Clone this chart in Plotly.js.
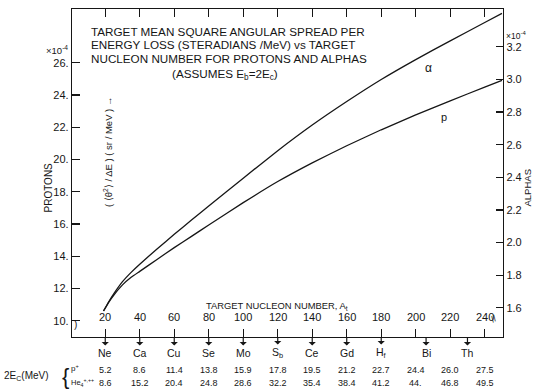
<!DOCTYPE html>
<html><head><meta charset="utf-8">
<script src="https://cdn.plot.ly/plotly-3.0.1.min.js"></script>
<style>html,body{margin:0;padding:0;background:#fff}#chart{width:541px;height:391px}</style>
</head><body><div id="chart"></div>
<script>
// ---- data ----
const curveA = [19, 22, 25, 30, 35, 40, 50, 60, 70, 80, 100, 120, 140, 160, 180, 200, 220, 240, 250];
const protonValues = [10.60, 11.14, 11.59, 12.22, 12.69, 13.06, 13.80, 14.53, 15.23, 15.94, 17.32, 18.63, 19.79, 20.85, 21.84, 22.76, 23.63, 24.49, 24.91];
const alphaValues = [1.581, 1.638, 1.688, 1.761, 1.818, 1.868, 1.961, 2.051, 2.138, 2.224, 2.395, 2.563, 2.720, 2.864, 2.999, 3.121, 3.236, 3.348, 3.404];

const massTicks = [20, 40, 60, 80, 100, 120, 140, 160, 180, 200, 220, 240];
const massTickText = ['20', '40', '60', '80', '100', '120', '140', '160', '180', '200', '220', '240'];
const protonTicks = [10, 12, 14, 16, 18, 20, 22, 24, 26];
const protonTickText = ['10.', '12.', '14.', '16.', '18.', '20.', '22.', '24.', '26.'];
const alphaTicks = [1.6, 1.8, 2.0, 2.2, 2.4, 2.6, 2.8, 3.0, 3.2];
const alphaTickText = ['1.6', '1.8', '2.0', '2.2', '2.4', '2.6', '2.8', '3.0', '3.2'];

const elementNames = ['Ne', 'Ca', 'Cu', 'Se', 'Mo', 'S<sub>b</sub>', 'Ce', 'Gd', 'H<sub>f</sub>', 'Bi', 'Th'];
const elementA = [20, 40, 60, 80, 100, 120, 140, 160, 180, 206, 230];
const protonEcText = ['5.2', '8.6', '11.4', '13.8', '15.9', '17.8', '19.5', '21.2', '22.7', '24.4', '26.0', '27.5'];
const alphaEcText = ['8.6', '15.2', '20.4', '24.8', '28.6', '32.2', '35.4', '38.4', '41.2', '44.', '46.8', '49.5'];

const titleLines = [
  'TARGET MEAN SQUARE ANGULAR SPREAD PER',
  'ENERGY LOSS (STERADIANS /MeV) vs TARGET',
  'NUCLEON NUMBER FOR PROTONS AND ALPHAS'
];

// ---- layout helpers ----
const W = 541, H = 391, L = 72, R = 38, T = 9, B = 54;
const PW = W - L - R, PH = H - T - B;
const px = x => (x - L) / PW;
const py = y => (H - B - y) / PH;
const FONT = 'Liberation Sans, Arial, sans-serif';
const ink = '#161616';

const traces = [
  {x: curveA, y: protonValues, mode: 'lines', name: 'p',
   line: {color: ink, width: 1.3, shape: 'spline', smoothing: 0.4},
   xaxis: 'x', yaxis: 'y', hoverinfo: 'skip'},
  {x: curveA, y: alphaValues, mode: 'lines', name: 'alpha',
   line: {color: ink, width: 1.3, shape: 'spline', smoothing: 0.4},
   xaxis: 'x', yaxis: 'y2', hoverinfo: 'skip'}
];

const ann = [];
const txt = (text, x, y, opts) => Object.assign({text, x: px(x), y: py(y), xref: 'paper', yref: 'paper',
  showarrow: false, borderpad: 0, font: {family: FONT, size: 11, color: ink}}, opts || {});

// title lines
titleLines.forEach((t, i) => ann.push(txt(t, 90, [32, 45, 58][i], {xanchor: 'left', yanchor: 'middle', font: {family: FONT, size: 11.7, color: ink}})));
ann.push(txt('(ASSUMES E<sub>b</sub>=2E<sub>c</sub>)', 171, 75, {xanchor: 'left', yanchor: 'middle', font: {family: FONT, size: 11.7, color: ink}}));

// x axis title & tick labels (drawn above the axis line)
ann.push(txt('TARGET NUCLEON NUMBER, A<sub>t</sub>', 205, 306, {xanchor: 'left', yanchor: 'middle', font: {family: FONT, size: 9.4, color: ink}}));
massTicks.forEach((a, i) => ann.push({text: massTickText[i], x: a, xref: 'x', y: 0, yref: 'paper', yshift: 20,
  showarrow: false, yanchor: 'middle', font: {family: FONT, size: 11, color: ink}}));

// element arrows
elementA.forEach((a, i) => ann.push({text: elementNames[i], x: a, xref: 'x', y: 0, yref: 'paper',
  showarrow: true, arrowside: 'start', arrowhead: 2, arrowsize: 0.7, arrowwidth: 1.2, arrowcolor: ink,
  ax: 0, ay: 16, font: {family: FONT, size: 10.5, color: ink}}));

// 2Ec rows
massTicks.forEach((a, i) => {
  ann.push({text: protonEcText[i], x: a, xref: 'x', y: 0, yref: 'paper', yshift: -32.5, showarrow: false,
    yanchor: 'middle', font: {family: FONT, size: 9, color: ink}});
  ann.push({text: alphaEcText[i], x: a, xref: 'x', y: 0, yref: 'paper', yshift: -45.5, showarrow: false,
    yanchor: 'middle', font: {family: FONT, size: 9, color: ink}});
});
ann.push(txt('2E<sub>C</sub>(MeV)', 3, 376, {xanchor: 'left', yanchor: 'middle', font: {family: FONT, size: 10, color: ink}}));
ann.push(txt('{', 61, 376, {xanchor: 'left', yanchor: 'middle', font: {family: FONT, size: 22, color: ink}}));
ann.push(txt('p<sup>+</sup>', 70, 368, {xanchor: 'left', yanchor: 'middle', font: {family: FONT, size: 8, color: ink}}));
ann.push(txt('He<sub>4</sub><sup>+,++</sup>', 70, 383, {xanchor: 'left', yanchor: 'middle', font: {family: FONT, size: 7.5, color: ink}}));

// axis side labels and exponents
ann.push(txt('PROTONS', 42, 188, {textangle: -90, font: {family: FONT, size: 10, color: ink}}));
ann.push(txt('ALPHAS', 534, 188, {textangle: -90, font: {family: FONT, size: 9.5, color: ink}}));
ann.push(txt('×10<sup>-4</sup>', 69, 43, {xanchor: 'right', font: {family: FONT, size: 9.5, color: ink}}));
ann.push(txt('×10<sup>-4</sup>', 505, 29, {xanchor: 'left', font: {family: FONT, size: 8.5, color: ink}}));
ann.push(txt('( ⟨θ<sup>2</sup>⟩ / ΔE ) ( sr / MeV ) →', 101, 152, {textangle: -90, font: {family: FONT, size: 9.5, color: ink}}));

// curve labels
ann.push(txt('α', 433, 60, {font: {family: FONT, size: 12, color: ink}}));
ann.push(txt('p', 448, 110, {font: {family: FONT, size: 11, color: ink}}));

// axis break marks
ann.push(txt('//', 500, 326, {textangle: -30, font: {family: FONT, size: 9, color: ink}}));
ann.push(txt(')', 73, 331, {font: {family: FONT, size: 10, color: ink}}));

const axisBase = {showgrid: false, zeroline: false, showline: true, linecolor: ink, linewidth: 1.2,
  tickcolor: ink, tickwidth: 1.1, tickfont: {family: FONT, size: 11, color: ink}, fixedrange: true};

const layout = {
  width: W, height: H, margin: {l: L, r: R, t: T, b: B}, showlegend: false,
  paper_bgcolor: '#fff', plot_bgcolor: '#fff',
  xaxis: Object.assign({}, axisBase, {range: [0.72, 250.6], tickvals: massTicks, showticklabels: false,
    ticks: 'inside', ticklen: 8, mirror: 'ticks'}),
  yaxis: Object.assign({}, axisBase, {range: [8.99, 29.33], tickvals: protonTicks, ticktext: protonTickText,
    ticks: 'inside', ticklen: 8}),
  yaxis2: Object.assign({}, axisBase, {range: [1.422, 3.431], tickvals: alphaTicks, ticktext: alphaTickText,
    ticks: 'inside', ticklen: 7, overlaying: 'y', side: 'right'}),
  annotations: ann
};

Plotly.newPlot('chart', traces, layout, {staticPlot: true, displayModeBar: false});
</script>
</body></html>
